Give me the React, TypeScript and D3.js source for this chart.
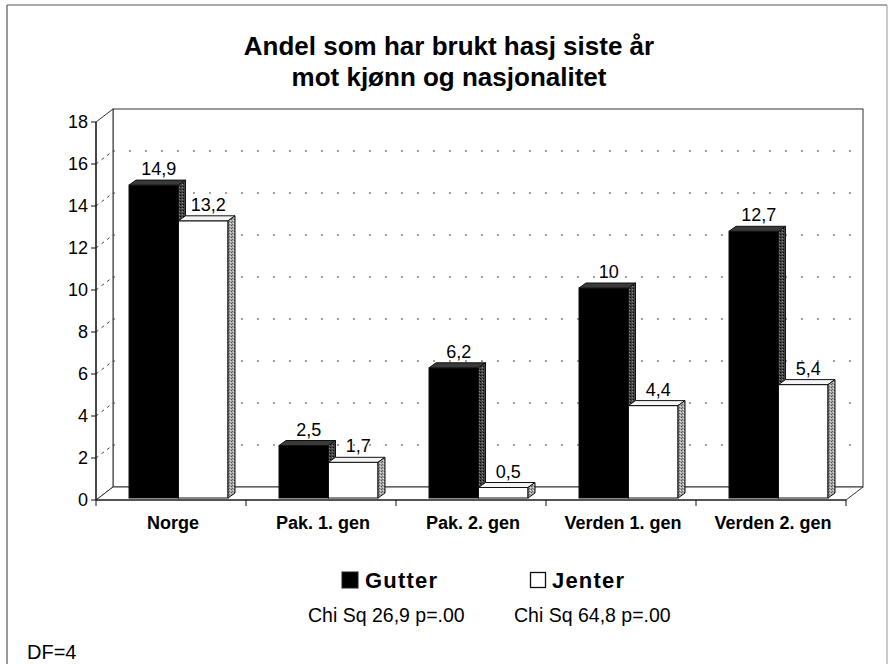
import React from 'react';
import * as d3 from 'd3';

const categories = ['Norge', 'Pak. 1. gen', 'Pak. 2. gen', 'Verden 1. gen', 'Verden 2. gen'];
const gutterValues = [14.9, 2.5, 6.2, 10, 12.7];
const jenterValues = [13.2, 1.7, 0.5, 4.4, 5.4];
const yTicks = [0, 2, 4, 6, 8, 10, 12, 14, 16, 18];
const seriesNames = ['Gutter', 'Jenter'];
const chiSqLabels = ['Chi Sq 26,9 p=.00', 'Chi Sq 64,8 p=.00'];
const titleLines = ['Andel som har brukt hasj siste år', 'mot kjønn og nasjonalitet'];
const footnote = 'DF=4';

const FONT = 'Liberation Sans, Arial, Helvetica, sans-serif';

export default function App() {
  const W = 895;
  const H = 664;
  const x0 = 96;
  const x1 = 846;
  const base = 500;
  const top = 122;
  const DX = 17;
  const DY = -13;
  const bdx = 7;
  const bdy = -5;

  const yFront = d3.scaleLinear().domain([0, 18]).range([base, top]);
  const yBar = d3.scaleLinear().domain([0, 18]).range([base - 2, top - 2]);
  const yBack = d3.scaleLinear().domain([0, 18]).range([base + DY, top + DY]);
  const xBand = d3.scaleBand<string>().domain(categories).range([x0, x1]).padding(0);

  const barW = 49.5;
  const barOffset = 33;
  const series = [gutterValues, jenterValues];
  const fmt = (v: number) => String(v).replace('.', ',');

  const wallStroke = '#333';

  const bars: React.ReactNode[] = [];
  const labels: React.ReactNode[] = [];
  categories.forEach((c, ci) => {
    series.forEach((vals, si) => {
      const v = vals[ci];
      const bx = (xBand(c) as number) + barOffset + si * barW;
      const yb = yBar(0);
      const yt = yBar(v);
      const isG = si === 0;
      const frontFill = isG ? '#000' : '#fff';
      const topFill = isG ? '#3a3a3a' : '#f4f4f4';
      const sideFill = isG ? 'url(#stipDark)' : 'url(#stipLight)';
      bars.push(
        <g key={`b-${ci}-${si}`}>
          <rect x={bx} y={yt} width={barW} height={yb - yt} fill={frontFill} stroke="#111" strokeWidth={1} />
          <path
            d={`M${bx},${yt}L${bx + barW},${yt}L${bx + barW + bdx},${yt + bdy}L${bx + bdx},${yt + bdy}Z`}
            fill={topFill}
            stroke="#111"
            strokeWidth={1}
          />
          <path
            d={`M${bx + barW},${yt}L${bx + barW + bdx},${yt + bdy}L${bx + barW + bdx},${yb + bdy}L${bx + barW},${yb}Z`}
            fill={sideFill}
            stroke="#111"
            strokeWidth={1}
          />
        </g>
      );
      labels.push(
        <text
          key={`l-${ci}-${si}`}
          x={bx + barW / 2 + 5}
          y={yt - 10}
          textAnchor="middle"
          fontSize={18}
          fontFamily={FONT}
          fill="#000"
        >
          {fmt(v)}
        </text>
      );
    });
  });

  return (
    <svg
      width={W}
      height={H}
      style={{ position: 'absolute', left: 0, top: 0, background: '#fff' }}
    >
      <defs>
        <pattern id="stipDark" width="3" height="3" patternUnits="userSpaceOnUse">
          <rect width="3" height="3" fill="#444" />
          <rect x="0" y="0" width="1" height="1" fill="#000" />
          <rect x="2" y="1" width="1" height="1" fill="#888" />
        </pattern>
        <pattern id="stipLight" width="3" height="3" patternUnits="userSpaceOnUse">
          <rect width="3" height="3" fill="#a8a8a8" />
          <rect x="0" y="0" width="1" height="1" fill="#555" />
          <rect x="2" y="1" width="1" height="1" fill="#e0e0e0" />
          <rect x="1" y="2" width="1" height="1" fill="#666" />
        </pattern>
      </defs>
      <rect x={0} y={0} width={W} height={H} fill="#fff" />

      {/* outer frame */}
      <line x1={7} y1={5} x2={887} y2={5} stroke="#555" strokeWidth={1.2} />
      <line x1={7} y1={5} x2={7} y2={H} stroke="#555" strokeWidth={1.2} />
      <line x1={887} y1={5} x2={887} y2={H} stroke="#999" strokeWidth={1} />

      {/* title */}
      {titleLines.map((t, i) => (
        <text
          key={`t-${i}`}
          x={449}
          y={55 + i * 31}
          textAnchor="middle"
          fontSize={26}
          fontWeight="bold"
          fontFamily={FONT}
          fill="#000"
        >
          {t}
        </text>
      ))}

      {/* back wall */}
      <rect
        x={x0 + DX}
        y={top + DY}
        width={x1 - x0}
        height={base - top}
        fill="#fff"
        stroke={wallStroke}
        strokeWidth={1}
      />
      {/* side wall */}
      <path
        d={`M${x0},${base}L${x0},${top}L${x0 + DX},${top + DY}L${x0 + DX},${base + DY}Z`}
        fill="#fff"
        stroke={wallStroke}
        strokeWidth={1}
      />
      {/* floor */}
      <path
        d={`M${x0},${base}L${x1},${base}L${x1 + DX},${base + DY}L${x0 + DX},${base + DY}Z`}
        fill="#fff"
        stroke={wallStroke}
        strokeWidth={1}
      />

      {/* gridlines */}
      {yTicks
        .filter((t) => t > 0 && t < 18)
        .map((t) => (
          <g key={`g-${t}`}>
            <line
              x1={x0 + DX}
              x2={x1 + DX}
              y1={yBack(t)}
              y2={yBack(t)}
              stroke="#444"
              strokeWidth={1}
              strokeDasharray="2 14"
            />
            <line
              x1={x0}
              y1={yFront(t)}
              x2={x0 + DX}
              y2={yBack(t)}
              stroke="#444"
              strokeWidth={1}
              strokeDasharray="3 4"
            />
          </g>
        ))}

      {/* y axis */}
      <line x1={x0} y1={base} x2={x0} y2={top} stroke="#111" strokeWidth={1.2} />
      {yTicks.map((t) => (
        <g key={`yt-${t}`}>
          <line x1={x0 - 5} x2={x0} y1={yFront(t)} y2={yFront(t)} stroke="#111" strokeWidth={1} />
          <text
            x={88}
            y={yFront(t)}
            dy="0.36em"
            textAnchor="end"
            fontSize={18}
            fontFamily={FONT}
            fill="#000"
          >
            {t}
          </text>
        </g>
      ))}

      {/* x axis */}
      <line x1={x0} y1={base} x2={x1} y2={base} stroke="#111" strokeWidth={1.2} />
      {categories.map((c, i) => {
        const bx = xBand(c) as number;
        return (
          <g key={`xt-${i}`}>
            <line x1={bx} x2={bx} y1={base} y2={base + 6} stroke="#111" strokeWidth={1} />
            {i === categories.length - 1 && (
              <line
                x1={bx + xBand.bandwidth()}
                x2={bx + xBand.bandwidth()}
                y1={base}
                y2={base + 6}
                stroke="#111"
                strokeWidth={1}
              />
            )}
            <text
              x={bx + xBand.bandwidth() / 2 + 2}
              y={529}
              textAnchor="middle"
              fontSize={18}
              fontWeight="bold"
              fontFamily={FONT}
              fill="#000"
            >
              {c}
            </text>
          </g>
        );
      })}

      {bars}
      {labels}

      {/* legend */}
      <rect x={342} y={572} width={16} height={16} fill="#000" stroke="#222" />
      <text x={365} y={588} fontSize={22} fontWeight="bold" letterSpacing={1.2} fontFamily={FONT} fill="#000">
        {seriesNames[0]}
      </text>
      <rect x={530.5} y={572.5} width={15} height={15} fill="#fff" stroke="#111" strokeWidth={1.3} />
      <text x={552} y={588} fontSize={22} fontWeight="bold" letterSpacing={1.2} fontFamily={FONT} fill="#000">
        {seriesNames[1]}
      </text>
      <text x={308} y={622} fontSize={19.5} fontFamily={FONT} fill="#000">
        {chiSqLabels[0]}
      </text>
      <text x={514} y={622} fontSize={19.5} fontFamily={FONT} fill="#000">
        {chiSqLabels[1]}
      </text>

      <text x={27} y={659} fontSize={20} fontFamily={FONT} fill="#000">
        {footnote}
      </text>
    </svg>
  );
}
